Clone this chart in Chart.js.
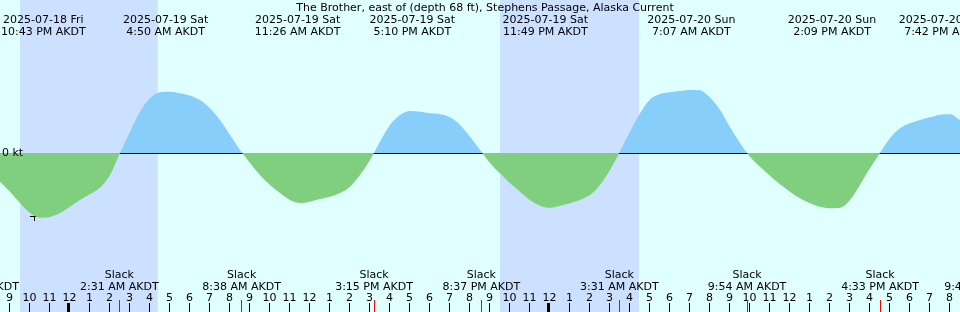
<!DOCTYPE html>
<html>
<head>
<meta charset="utf-8">
<script src="https://cdn.jsdelivr.net/npm/chart.js@4.4.0/dist/chart.umd.min.js"></script>
<style>
  html, body { margin: 0; padding: 0; background: #e0ffff; }
  canvas { display: block; }
</style>
</head>
<body>
<canvas id="currentChart" width="960" height="312"></canvas>
<script>
// Hours are counted from 2025-07-19 00:00 AKDT
const chartTitle = 'The Brother, east of (depth 68 ft), Stephens Passage, Alaska Current';

// current speed (kt), flood positive / ebb negative
const curveHours = [
  -3.45, -2.95, -2.45, -1.95, -1.45, -0.95, -0.45, 0.05, 0.55, 1.05,
  1.55, 2.05, 2.55, 3.05, 3.55, 4.05, 4.55, 5.05, 5.55, 6.05,
  6.55, 7.05, 7.55, 8.05, 8.55, 9.05, 9.55, 10.05, 10.55, 11.05,
  11.55, 12.05, 12.55, 13.05, 13.55, 14.05, 14.55, 15.05, 15.55, 16.05,
  16.55, 17.05, 17.55, 18.05, 18.55, 19.05, 19.55, 20.05, 20.55, 21.05,
  21.55, 22.05, 22.55, 23.05, 23.55, 24.05, 24.55, 25.05, 25.55, 26.05,
  26.55, 27.05, 27.55, 28.05, 28.55, 29.05, 29.55, 30.05, 30.55, 31.05,
  31.55, 31.8, 32.05, 32.55, 33.05, 33.55, 34.05, 34.55, 35.05, 35.55, 36.05,
  36.55, 37.05, 37.55, 38.05, 38.55, 39.05, 39.55, 40.05, 40.55, 41.05,
  41.55, 42.05, 42.55, 43.05, 43.55, 44.05, 44.55
];
const curveKnots = [
  -0.188, -0.253, -0.327, -0.392, -0.423, -0.418, -0.392, -0.351, -0.307, -0.268,
  -0.227, -0.144, 0.000, 0.139, 0.270, 0.358, 0.397, 0.401, 0.390, 0.375,
  0.346, 0.292, 0.216, 0.118, 0.020, -0.065, -0.144, -0.209, -0.261, -0.307,
  -0.327, -0.318, -0.301, -0.286, -0.261, -0.220, -0.144, -0.046, 0.074, 0.183,
  0.248, 0.275, 0.270, 0.259, 0.253, 0.233, 0.183, 0.107, 0.020, -0.065,
  -0.133, -0.198, -0.253, -0.307, -0.344, -0.358, -0.344, -0.329, -0.307, -0.275,
  -0.209, -0.111, 0.010, 0.139, 0.259, 0.350, 0.385, 0.397, 0.405, 0.412,
  0.410, 0.392, 0.362, 0.283, 0.170, 0.065, -0.024, -0.090, -0.148, -0.205, -0.253,
  -0.296, -0.329, -0.351, -0.361, -0.358, -0.307, -0.209, -0.100, 0.000, 0.096,
  0.161, 0.194, 0.216, 0.233, 0.250, 0.253, 0.216
];

// max flood / max ebb events (top labels)
const eventHours = [-1.283, 4.833, 11.433, 17.167, 23.817, 31.117, 38.15, 43.7];
const eventDays = ['2025-07-18 Fri', '2025-07-19 Sat', '2025-07-19 Sat', '2025-07-19 Sat',
  '2025-07-19 Sat', '2025-07-20 Sun', '2025-07-20 Sun', '2025-07-20 Sun'];
const eventTimes = ['10:43 PM AKDT', '4:50 AM AKDT', '11:26 AM AKDT', '5:10 PM AKDT',
  '11:49 PM AKDT', '7:07 AM AKDT', '2:09 PM AKDT', '7:42 PM AKDT'];

// slack water (bottom labels)
const slackHours = [-4.45, 2.517, 8.633, 15.25, 20.617, 27.517, 33.9, 40.55, 45.7];
const slackTimes = ['7:33 PM AKDT', '2:31 AM AKDT', '8:38 AM AKDT', '3:15 PM AKDT', '8:37 PM AKDT',
  '3:31 AM AKDT', '9:54 AM AKDT', '4:33 PM AKDT', '9:42 PM AKDT'];

// night: sunset -> sunrise
const nightStart = [-2.45, 21.55];
const nightEnd = [4.435, 28.5];

// hour ticks start at 9 PM on the 18th
const firstTickHour = -3;
const hourLabels = ['9', '10', '11', '12', '1', '2', '3', '4', '5', '6', '7', '8', '9', '10', '11',
  '12', '1', '2', '3', '4', '5', '6', '7', '8', '9', '10', '11', '12', '1', '2', '3', '4', '5', '6',
  '7', '8', '9', '10', '11', '12', '1', '2', '3', '4', '5', '6', '7', '8'];
const midnightHours = [0, 24];

// marker "+" (now)
const nowHour = -1.725;
const nowKnots = -0.415;

const FONT = '11px "DejaVu Sans"';

const tidePlugin = {
  id: 'tidePlugin',
  beforeDatasetsDraw(chart) {
    const ctx = chart.ctx;
    const xs = chart.scales.x, ys = chart.scales.y;
    ctx.save();
    ctx.fillStyle = '#e0ffff';
    ctx.fillRect(0, 0, chart.width, chart.height);
    ctx.fillStyle = '#cce0ff';
    for (let i = 0; i < nightStart.length; i++) {
      const a = xs.getPixelForValue(nightStart[i]);
      const b = xs.getPixelForValue(nightEnd[i]);
      ctx.fillRect(a, 0, b - a, chart.height);
    }
    // zero line (ebb fill paints over it)
    ctx.fillStyle = '#000';
    ctx.fillRect(0, Math.round(ys.getPixelForValue(0)), chart.width, 1);
    ctx.restore();
  },
  afterDatasetsDraw(chart) {
    const ctx = chart.ctx;
    const xs = chart.scales.x, ys = chart.scales.y;
    ctx.save();
    ctx.font = FONT;
    ctx.fillStyle = '#000';
    ctx.textBaseline = 'alphabetic';

    ctx.textAlign = 'center';
    ctx.fillText(chartTitle, 485, 11);

    eventHours.forEach((h, i) => {
      const px = xs.getPixelForValue(h);
      ctx.fillText(eventDays[i], px, 23);
      ctx.fillText(eventTimes[i], px, 35);
    });

    slackHours.forEach((h, i) => {
      const px = xs.getPixelForValue(h);
      ctx.fillText('Slack', px, 278);
      ctx.fillText(slackTimes[i], px, 290);
    });

    hourLabels.forEach((lab, i) => {
      const h = firstTickHour + i;
      const px = Math.round(xs.getPixelForValue(h));
      ctx.fillText(lab, px + 0.5, 301);
      if (midnightHours.includes(h)) {
        ctx.fillRect(px - 2, 303, 3, 9);
      } else {
        ctx.fillRect(px, 303, 1, 9);
      }
    });

    ctx.fillStyle = '#ff0000';
    slackHours.forEach(h => {
      const px = Math.floor(xs.getPixelForValue(h));
      if (px >= 0 && px < chart.width) ctx.fillRect(px, 300, 1, 12);
    });

    ctx.fillStyle = '#000';
    ctx.textAlign = 'left';
    ctx.fillText('0 kt', 2, ys.getPixelForValue(0) + 3);
    ctx.restore();
  }
};

const ctx = document.getElementById('currentChart').getContext('2d');
const currentChart = new Chart(ctx, {
  type: 'line',
  data: {
    datasets: [{
      data: curveHours.map((h, i) => ({ x: h, y: curveKnots[i] })),
      borderWidth: 0,
      borderColor: 'rgba(0,0,0,0)',
      pointRadius: 0,
      cubicInterpolationMode: 'monotone',
      fill: { target: 'origin', above: '#87cefa', below: '#7fcf7f' }
    }, {
      data: [{ x: nowHour, y: nowKnots }],
      showLine: false,
      pointStyle: 'cross',
      pointRadius: 4.5,
      borderColor: '#000',
      borderWidth: 1,
      backgroundColor: '#000'
    }]
  },
  options: {
    responsive: false,
    animation: false,
    devicePixelRatio: 1,
    layout: { autoPadding: false, padding: { left: 0, right: 0, top: 0, bottom: 6 } },
    plugins: { legend: { display: false }, tooltip: { enabled: false } },
    scales: {
      x: { type: 'linear', min: -3.45, max: 44.55, display: false },
      y: { min: -1, max: 1, display: false }
    }
  },
  plugins: [tidePlugin]
});
</script>
</body>
</html>
